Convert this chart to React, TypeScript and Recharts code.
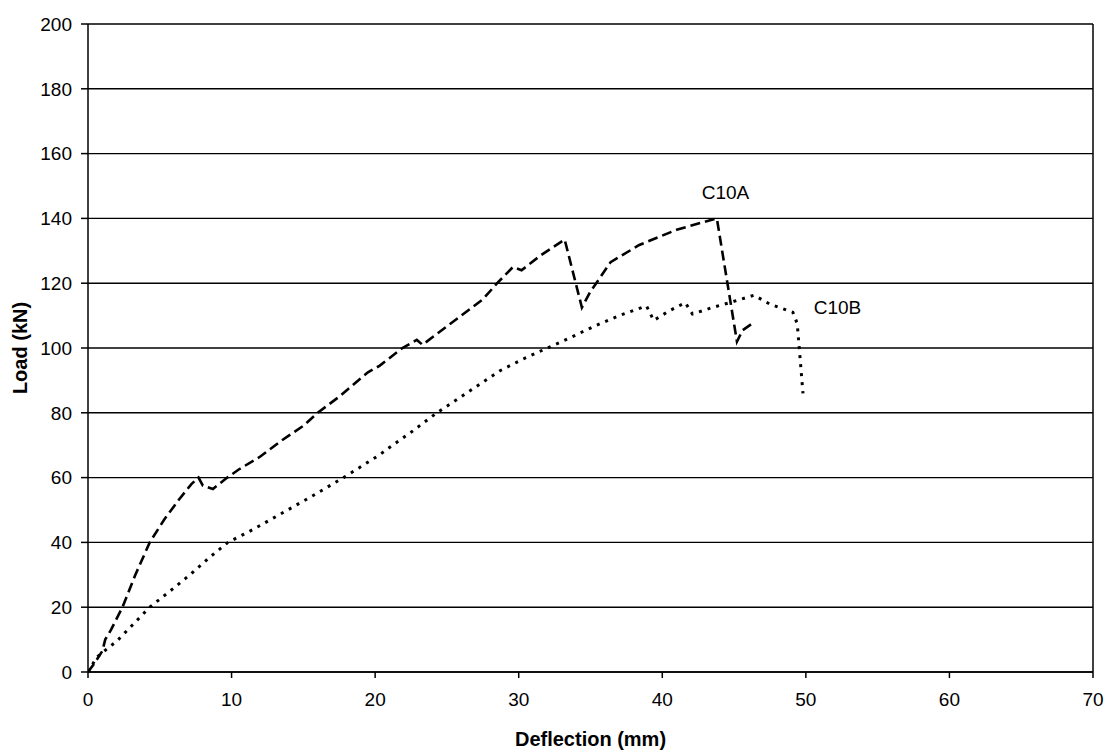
import React from 'react';
import {
  LineChart, Line, XAxis, YAxis, CartesianGrid, ReferenceLine, ReferenceDot, Label
} from 'recharts';

// Beam C10A (deflection in mm, load in kN)
const c10aDeflection = [0, 0.5, 1.0, 1.2, 1.6, 2.4, 3.3, 4.3, 5.3, 6.3, 7.2, 7.7, 8.0, 8.7, 9.7, 10.5, 12, 13.5, 15, 16, 17.5, 19.5, 20.3, 21.9, 22.9, 23.3, 24.5, 26, 27.5, 28.5, 29.6, 30.2, 31.5, 33.2, 34.4, 35, 35.4, 36.4, 38.4, 41, 43.8, 45.2, 45.6, 46.4];
const c10aLoad = [0, 3, 6.5, 10, 13, 20, 30, 40, 47, 53, 58, 60, 57.5, 56.5, 60, 62.5, 66.5, 71.5, 76, 80, 85, 92.5, 94.5, 100, 102.5, 101, 105, 110, 115, 120, 125, 124, 128.5, 133.5, 112.5, 117.5, 120, 126.5, 131.8, 136.5, 140, 102, 105.5, 108];

// Beam C10B
const c10bDeflection = [0, 0.6, 1.0, 2, 4.3, 6, 7.1, 8.5, 9.75, 11.5, 13.5, 15.5, 17.8, 20.3, 20.9, 22.5, 24.3, 26.5, 28.7, 30.5, 32, 33.5, 35.4, 37, 38.9, 39.4, 40.5, 41.6, 42.1, 43.5, 44.7, 46.4, 47.5, 49.1, 49.4, 49.8];
const c10bLoad = [0, 4.5, 6, 9.5, 20, 26, 30, 35.5, 40, 44, 49, 54, 60, 67, 69, 74, 80, 86.5, 93, 97, 100, 103, 107, 110, 113, 108.5, 111.5, 114, 110.5, 112.5, 114, 116.3, 113.5, 111, 107.5, 86];

const xTicks = [0, 10, 20, 30, 40, 50, 60, 70];
const yTicks = [0, 20, 40, 60, 80, 100, 120, 140, 160, 180, 200];

const seriesLabels = [
  { name: 'C10A', x: 44.4, y: 148 },
  { name: 'C10B', x: 52.2, y: 112.5 },
];

const c10a = c10aDeflection.map((d, i) => ({ x: d, load: c10aLoad[i] }));
const c10b = c10bDeflection.map((d, i) => ({ x: d, load: c10bLoad[i] }));

const FONT = '"Liberation Sans", Arial, sans-serif';

export default function App() {
  return (
    <div style={{ position: 'absolute', left: 0, top: 0, background: '#fff', fontFamily: FONT }}>
      <LineChart
        width={1111}
        height={756}
        margin={{ top: 24, right: 18, bottom: 24, left: 0 }}
      >
        <CartesianGrid horizontal vertical={false} stroke="#000" strokeWidth={1.4} />
        <XAxis
          type="number"
          dataKey="x"
          domain={[0, 70]}
          ticks={xTicks}
          allowDataOverflow
          height={60}
          stroke="#000"
          strokeWidth={1.5}
          tickSize={6}
          tickMargin={15}
          tick={{ fill: '#000', fontSize: 19, fontFamily: FONT }}
        >
          <Label
            value="Deflection (mm)"
            position="insideBottom"
            offset={-14}
            style={{ fill: '#000', fontSize: 20, fontWeight: 'bold', fontFamily: FONT }}
          />
        </XAxis>
        <YAxis
          type="number"
          domain={[0, 200]}
          ticks={yTicks}
          allowDataOverflow
          width={88}
          stroke="#000"
          strokeWidth={1.5}
          tickSize={7}
          tickMargin={9}
          tick={{ fill: '#000', fontSize: 19, fontFamily: FONT }}
        >
          <Label
            value="Load (kN)"
            angle={-90}
            position="insideLeft"
            offset={20}
            style={{ textAnchor: 'middle', fill: '#000', fontSize: 20, fontWeight: 'bold', fontFamily: FONT }}
          />
        </YAxis>
        <ReferenceLine x={70} stroke="#000" strokeWidth={1.5} />
        <Line
          data={c10a}
          dataKey="load"
          type="linear"
          stroke="#000"
          strokeWidth={2.6}
          strokeDasharray="10 5"
          dot={false}
          isAnimationActive={false}
        />
        <Line
          data={c10b}
          dataKey="load"
          type="linear"
          stroke="#000"
          strokeWidth={3}
          strokeDasharray="3 6"
          dot={false}
          isAnimationActive={false}
        />
        {seriesLabels.map((l) => (
          <ReferenceDot
            key={l.name}
            x={l.x}
            y={l.y}
            r={0}
            fill="none"
            stroke="none"
            label={{ value: l.name, position: 'center', fill: '#000', fontSize: 19, fontFamily: FONT }}
          />
        ))}
      </LineChart>
    </div>
  );
}
